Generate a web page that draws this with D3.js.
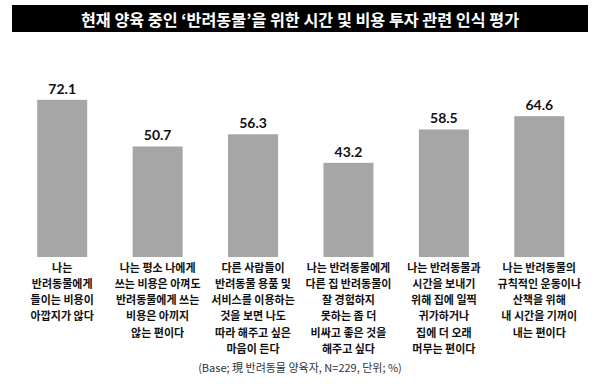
<!DOCTYPE html>
<html><head><meta charset="utf-8">
<script src="https://cdn.jsdelivr.net/npm/d3@7"></script>
<style>body{margin:0;background:#fff}</style>
</head><body>
<svg id="c" width="600" height="384"></svg>
<script>
const title = "현재 양육 중인 ‘반려동물’을 위한 시간 및 비용 투자 관련 인식 평가";
const categories = [
  ["나는", "반려동물에게", "들이는 비용이", "아깝지가 않다"],
  ["나는 평소 나에게", "쓰는 비용은 아껴도", "반려동물에게 쓰는", "비용은 아끼지", "않는 편이다"],
  ["다른 사람들이", "반려동물 용품 및", "서비스를 이용하는", "것을 보면 나도", "따라 해주고 싶은", "마음이 든다"],
  ["나는 반려동물에게", "다른 집 반려동물이", "잘 경험하지", "못하는 좀 더", "비싸고 좋은 것을", "해주고 싶다"],
  ["나는 반려동물과", "시간을 보내기", "위해 집에 일찍", "귀가하거나", "집에 더 오래", "머무는 편이다"],
  ["나는 반려동물의", "규칙적인 운동이나", "산책을 위해", "내 시간을 기꺼이", "내는 편이다"]
];
const values = [72.1, 50.7, 56.3, 43.2, 58.5, 64.6];
const footnote = "(Base; 現 반려동물 양육자, N=229, 단위; %)";

const svg = d3.select("#c");
const KR = "'Noto Sans CJK KR', 'Noto Sans', sans-serif";

// title bar
svg.append("rect").attr("x", 12).attr("y", 5).attr("width", 576).attr("height", 27).attr("fill", "#000");
svg.append("text").attr("x", 300).attr("y", 19).attr("text-anchor", "middle")
  .attr("dominant-baseline", "central").attr("fill", "#fff")
  .attr("font-family", KR).attr("font-weight", 700).attr("font-size", 16.2).text(title);

const idx = d3.range(values.length);
const x = d3.scaleBand().domain(idx).range([14.5, 587]).paddingInner(0.476).paddingOuter(0.238);
const y = d3.scaleLinear().domain([0, 100]).range([257, 39]);

svg.append("g").selectAll("rect").data(idx).join("rect")
  .attr("x", i => x(i)).attr("width", x.bandwidth())
  .attr("y", i => y(values[i])).attr("height", i => y(0) - y(values[i]))
  .attr("fill", "#a6a6a6");

svg.append("g").selectAll("text").data(idx).join("text")
  .attr("x", i => x(i) + x.bandwidth() / 2).attr("y", i => y(values[i]) - 6)
  .attr("text-anchor", "middle").attr("font-family", "Lato, 'Open Sans', sans-serif")
  .attr("font-weight", 700).attr("font-size", 14).attr("fill", "#111")
  .text(i => values[i].toFixed(1));

const lines = [];
idx.forEach(i => categories[i].forEach((line, k) => lines.push({i, k, line})));
svg.append("g").selectAll("text").data(lines).join("text")
  .attr("x", d => x(d.i) + x.bandwidth() / 2).attr("y", d => 271.5 + d.k * 16.3)
  .attr("text-anchor", "middle").attr("font-family", KR).attr("font-weight", 700)
  .attr("font-size", 11).attr("fill", "#111")
  .text(d => d.line);

svg.append("text").attr("x", 300).attr("y", 372).attr("text-anchor", "middle")
  .attr("font-family", KR).attr("font-size", 11).attr("fill", "#333").text(footnote);
</script>
</body></html>
